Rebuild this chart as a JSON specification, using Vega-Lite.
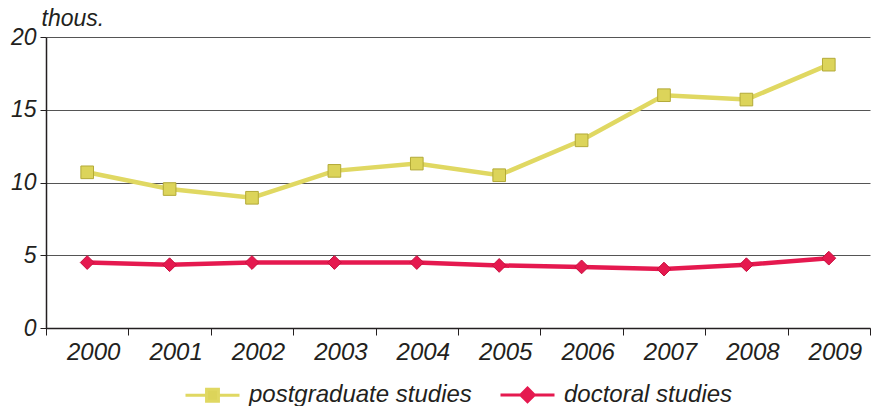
{
  "$schema": "https://vega.github.io/schema/vega-lite/v6.json",
  "width": 824,
  "height": 291,
  "autosize": {"type": "none"},
  "padding": {"left": 46, "top": 37, "right": 3, "bottom": 78},
  "background": "white",
  "config": {
    "view": {"stroke": null},
    "font": "Liberation Sans",
    "axis": {"labelFont": "Liberation Sans", "labelFontStyle": "italic", "labelFontSize": 23, "labelColor": "#231f20", "titleFont": "Liberation Sans"}
  },
  "data": {
    "values": [
      {"year": "2000", "series": "postgraduate studies", "value": 10.7},
      {"year": "2001", "series": "postgraduate studies", "value": 9.55},
      {"year": "2002", "series": "postgraduate studies", "value": 8.95},
      {"year": "2003", "series": "postgraduate studies", "value": 10.8},
      {"year": "2004", "series": "postgraduate studies", "value": 11.3},
      {"year": "2005", "series": "postgraduate studies", "value": 10.5},
      {"year": "2006", "series": "postgraduate studies", "value": 12.9},
      {"year": "2007", "series": "postgraduate studies", "value": 16.0},
      {"year": "2008", "series": "postgraduate studies", "value": 15.7},
      {"year": "2009", "series": "postgraduate studies", "value": 18.1},
      {"year": "2000", "series": "doctoral studies", "value": 4.5},
      {"year": "2001", "series": "doctoral studies", "value": 4.35},
      {"year": "2002", "series": "doctoral studies", "value": 4.5},
      {"year": "2003", "series": "doctoral studies", "value": 4.5},
      {"year": "2004", "series": "doctoral studies", "value": 4.5},
      {"year": "2005", "series": "doctoral studies", "value": 4.3},
      {"year": "2006", "series": "doctoral studies", "value": 4.2},
      {"year": "2007", "series": "doctoral studies", "value": 4.05},
      {"year": "2008", "series": "doctoral studies", "value": 4.35},
      {"year": "2009", "series": "doctoral studies", "value": 4.8}
    ]
  },
  "encoding": {
    "x": {
      "field": "year", "type": "ordinal",
      "scale": {"paddingInner": 0, "paddingOuter": 0},
      "axis": {"title": null, "labelAngle": 0, "labelFontSize": 24, "labelOffset": 6, "bandPosition": 0, "ticks": true, "tickBand": "extent", "tickSize": 7, "tickColor": "#231f20", "domainColor": "#231f20", "domainWidth": 1.5, "labelPadding": 5, "grid": false}
    },
    "y": {
      "field": "value", "type": "quantitative",
      "scale": {"domain": [0, 20], "nice": false},
      "axis": {"values": [0, 5, 10, 15, 20], "title": "thous.", "titleAngle": 0, "titleAlign": "left", "titleBaseline": "bottom", "titleX": -5, "titleY": -7, "titleFontSize": 23, "titleFontStyle": "italic", "titleFontWeight": "normal", "titleColor": "#231f20", "tickSize": 6, "tickColor": "#231f20", "domainColor": "#231f20", "domainWidth": 1.5, "labelPadding": 4, "grid": true, "gridColor": "#555555", "gridWidth": 1}
    }
  },
  "layer": [
    {
      "mark": {"type": "line", "strokeWidth": 4.5},
      "encoding": {
        "color": {
          "field": "series", "type": "nominal",
          "scale": {"domain": ["postgraduate studies", "doctoral studies"], "range": ["#e0d862", "#e5194f"]},
          "legend": {
            "title": null, "orient": "none", "direction": "horizontal", "legendX": 138, "legendY": 329,
            "labelFont": "Liberation Sans", "labelFontStyle": "italic", "labelFontSize": 24, "labelColor": "#231f20", "labelLimit": 0,
            "symbolSize": 2916, "symbolStrokeWidth": 3, "columnPadding": 22, "labelOffset": 8,
            "encode": {
              "symbols": {
                "update": {
                  "shape": {"signal": "datum.value === 'postgraduate studies' ? 'M-1,0H-0.22M0.22,0H1M-0.22,-0.22H0.22V0.22H-0.22Z' : 'M-1,0H-0.25M0.25,0H1M0,-0.25L0.25,0L0,0.25L-0.25,0Z'"},
                  "fill": {"signal": "datum.value === 'postgraduate studies' ? '#dcd45a' : '#e5194f'"},
                  "stroke": {"signal": "datum.value === 'postgraduate studies' ? '#dcd45a' : '#e5194f'"},
                  "strokeWidth": {"value": 3},
                  "opacity": {"value": 1}
                }
              }
            }
          }
        }
      }
    },
    {
      "transform": [{"filter": "datum.series === 'postgraduate studies'"}],
      "mark": {"type": "point", "shape": "square", "size": 160, "filled": true, "fill": "#dcd45a", "stroke": "#b3aa38", "strokeWidth": 1, "opacity": 1}
    },
    {
      "transform": [{"filter": "datum.series === 'doctoral studies'"}],
      "mark": {"type": "point", "shape": "diamond", "size": 190, "filled": true, "fill": "#e5194f", "stroke": "#c8103f", "strokeWidth": 1, "opacity": 1}
    }
  ]
}
